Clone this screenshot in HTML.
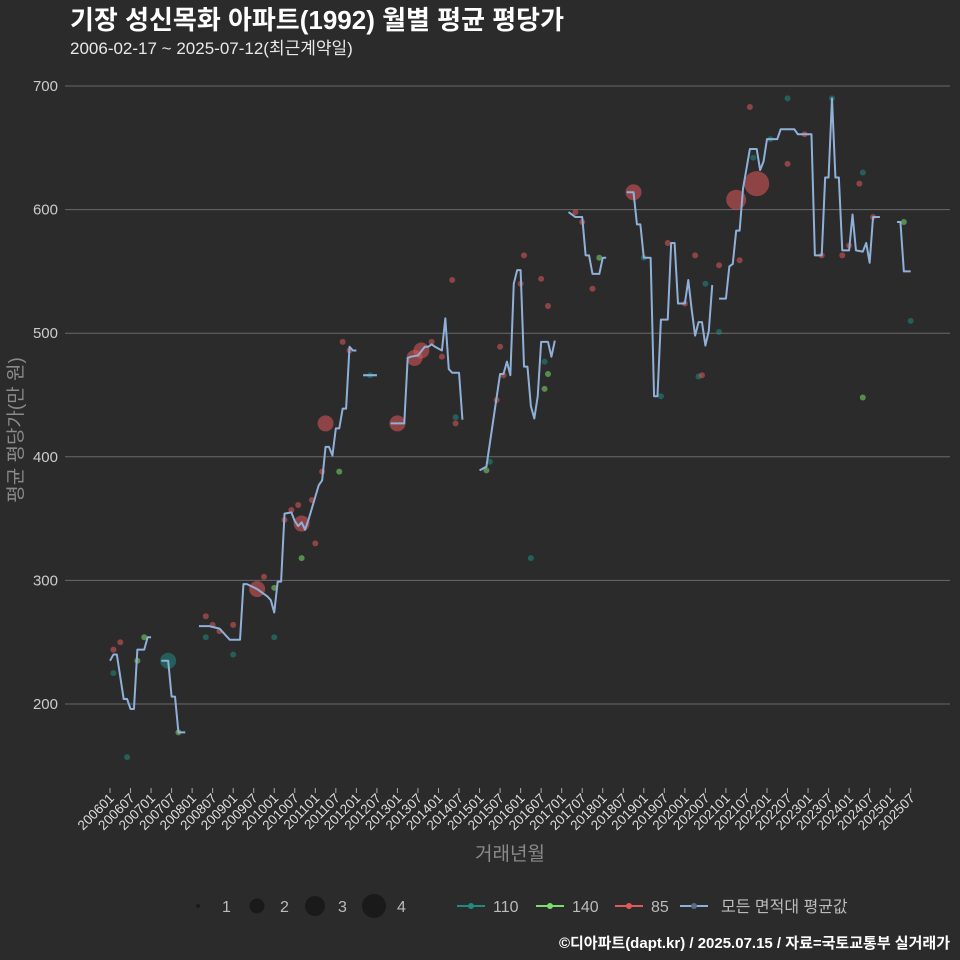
<!DOCTYPE html>
<html><head><meta charset="utf-8">
<style>
html,body{margin:0;padding:0;background:#2b2b2c;}
svg{display:block;font-family:"Liberation Sans","Noto Sans CJK KR",sans-serif;}
</style></head>
<body>
<svg id="chart" width="960" height="960" viewBox="0 0 960 960">
<rect width="960" height="960" fill="#2b2b2c"/>
<text x="70" y="29" fill="#ffffff" font-size="26" font-weight="bold">기장 성신목화 아파트(1992) 월별 평균 평당가</text>
<text x="70" y="54" fill="#e8e8e8" font-size="17">2006-02-17 ~ 2025-07-12(최근계약일)</text>
<g id="grid"></g>
<g id="yticks"></g>
<g id="xticks"></g>
<g id="pts"></g>
<g id="avg"></g>
<text transform="translate(22,430) rotate(-90)" text-anchor="middle" fill="#8a8a8a" font-size="19">평균 평당가(만 원)</text>
<text x="510" y="860" text-anchor="middle" fill="#8a8a8a" font-size="19">거래년월</text>
<g font-size="16" fill="#bbbbbb">
<circle cx="198" cy="906" r="2" fill="#1a1a1a"/><text x="222" y="912">1</text>
<circle cx="257" cy="906" r="7.5" fill="#1a1a1a"/><text x="280" y="912">2</text>
<circle cx="315" cy="906" r="10" fill="#1a1a1a"/><text x="338" y="912">3</text>
<circle cx="374" cy="906" r="12" fill="#1a1a1a"/><text x="397" y="912">4</text>
</g>
<g font-size="16" fill="#bbbbbb">
<g><line x1="457" y1="906" x2="485" y2="906" stroke="#1f8a80" stroke-width="2"/><circle cx="471" cy="906" r="3" fill="#1f8a80"/><text x="493" y="912">110</text></g>
<g><line x1="536" y1="906" x2="564" y2="906" stroke="#7ddc6e" stroke-width="2"/><circle cx="550" cy="906" r="3" fill="#7ddc6e"/><text x="572" y="912">140</text></g>
<g><line x1="615" y1="906" x2="643" y2="906" stroke="#e05a5a" stroke-width="2"/><circle cx="629" cy="906" r="3" fill="#e05a5a"/><text x="651" y="912">85</text></g>
<g><line x1="680" y1="906" x2="708" y2="906" stroke="#8fb0d8" stroke-width="2"/><circle cx="694" cy="906" r="3" fill="#5a6c88"/><text x="721" y="912">모든 면적대 평균값</text></g>
</g>
<text x="950" y="948" text-anchor="end" fill="#ffffff" font-size="15" font-weight="bold">©디아파트(dapt.kr) / 2025.07.15 / 자료=국토교통부 실거래가</text>
</svg>
<script>
// data: month index (0 = 2006-01), value (만 원/평), count
const yTicks = [200,300,400,500,600,700];
const xTickLabels = [];
for (let y=2006;y<=2025;y++){ xTickLabels.push(y+'01'); xTickLabels.push(y+'07'); }
const avgSegments = [
 [[0,235],[1,240],[2,240],[4,204],[5,204],[6,196],[7,196],[8,244],[10,244],[11,254],[12,254]],
 [[15,235],[17,235],[18,206],[19,206],[20,177],[22,177]],
 [[26,263],[29,263],[32,261],[35,252],[38,252],[39,297],[40,297],[43,293],[46,287],[47,284],[48,274],[49,299],[50,299],[51,354],[53,355],[54,348],[55,344],[56,347],[57,341],[58,349],[61,377],[62,381],[63,408],[64,408],[65,401],[66,423],[67,423],[68,439],[69,439],[70,489],[71,486],[72,486]],
 [[74,466],[78,466]],
 [[82,427],[86,427],[87,480],[88,481],[90,482],[92,489],[93,489],[94,491],[95,489],[97,486],[98,512],[99,471],[100,468],[102,468],[103,430]],
 [[108,389],[110,392],[114,467],[115,467],[116,477],[117,466],[118,540],[119,551],[120,551],[121,473],[122,473],[123,441],[124,431],[125,449],[126,493],[128,493],[129,481],[130,494]],
 [[134,598],[136,594],[138,594],[139,563],[140,563],[141,548],[143,548],[144,561],[145,561]],
 [[151,614],[153,614],[154,588],[155,588],[156,561],[158,561],[159,449],[160,449],[161,511],[163,511],[164,573],[165,573],[166,524],[168,524],[169,543],[170,519],[171,498],[172,509],[173,509],[174,490],[175,502],[176,539]],
 [[178,528],[180,528],[181,554],[182,556],[183,583],[184,583],[185,617],[187,649],[189,649],[190,632],[191,639],[192,657],[195,657],[196,665],[200,665],[201,661],[205,661],[206,563],[208,563],[209,626],[210,626],[211,690],[212,626],[213,626],[214,567],[216,567],[217,596],[218,567],[220,566],[221,573],[222,557],[223,594],[225,594]],
 [[230,590],[231,590],[232,550],[234,550]]
];
const red85 = [[1,244,1],[3,250,1],[43,293,2],[28,271,1],[30,264,1],[32,259,1],[36,264,1],[45,303,1],[51,349,1],[53,357,1],[55,361,1],[56,346,2],[59,365,1],[60,330,1],[62,388,1],[63,427,2],[68,493,1],[70,486,1],[84,427,2],[89,480,2],[91,486,2],[94,493,1],[97,481,1],[101,427,1],[100,543,1],[114,489,1],[113,446,1],[115,466,1],[121,563,1],[120,540,1],[126,544,1],[128,522,1],[136,598,1],[138,590,1],[141,536,1],[153,614,2],[163,573,1],[168,524,1],[171,563,1],[173,466,1],[178,555,1],[187,683,1],[184,559,1],[183,608,3],[189,621,4],[198,637,1],[203,661,1],[208,563,1],[214,563,1],[216,571,1],[219,621,1],[223,594,1]];
const teal110 = [[1,225,1],[5,157,1],[17,235,2],[28,254,1],[36,240,1],[48,254,1],[76,466,1],[101,432,1],[111,396,1],[127,477,1],[123,318,1],[156,561,1],[161,449,1],[174,540,1],[172,465,1],[178,501,1],[188,642,1],[193,657,1],[198,690,1],[211,690,1],[220,630,1],[234,510,1]];
const green140 = [[8,235,1],[10,254,1],[20,177,1],[48,294,1],[56,318,1],[67,388,1],[110,389,1],[128,467,1],[127,455,1],[143,561,1],[220,448,1],[232,590,1]];
const teal110Line = [[74,466],[78,466]];

const NS='http://www.w3.org/2000/svg';
const X = m => 110 + m*(800.7/234);
const Y = v => 704 - (v-200)*1.236;
const R = c => [0,3,8,10,12.5][c] || 3;
function mk(tag,attrs,parent){const e=document.createElementNS(NS,tag);for(const k in attrs)e.setAttribute(k,attrs[k]);parent.appendChild(e);return e;}
const grid=document.getElementById('grid'), yt=document.getElementById('yticks'), xt=document.getElementById('xticks');
yTicks.forEach(v=>{
 const l=mk('line',{x1:65,x2:950,y1:Y(v),y2:Y(v),stroke:'#6a6a6a','stroke-width':1},grid);
 
 
 const t=mk('text',{x:58,y:Y(v)+5,'text-anchor':'end',fill:'#cccccc','font-size':15},yt);
 t.textContent=v;
 
 
});
xTickLabels.forEach((lab,i)=>{
 const x=X(i*6);
 const tk=mk('line',{x1:x,x2:x,y1:788,y2:793,stroke:'#aaaaaa'},xt);
 
 
 const t=mk('text',{x:0,y:0,'text-anchor':'end',fill:'#dddddd','font-size':13.5,transform:`translate(${x+5},${799}) rotate(-45)`},xt);
 t.textContent=lab;
 
 
});
const pts=document.getElementById('pts');
function drawPts(arr,color,name){
 arr.forEach(p=>{
  const c=mk('circle',{cx:X(p[0]),cy:Y(p[1]),r:R(p[2]),fill:color,'fill-opacity':0.55},pts);
  
  
 });
}
drawPts(teal110,'#1f8a80','area-110');
drawPts(green140,'#7ddc6e','area-140');
drawPts(red85,'#e05a5a','area-85');
const tl=mk('polyline',{points:teal110Line.map(p=>X(p[0])+','+Y(p[1])).join(' '),fill:'none',stroke:'#1fa0a0','stroke-width':2},pts);


const avg=document.getElementById('avg');
avgSegments.forEach(seg=>{
 const pl=mk('polyline',{points:seg.map(p=>X(p[0])+','+Y(p[1])).join(' '),fill:'none',stroke:'#8fb0d8','stroke-width':2,'stroke-linejoin':'round'},avg);
 
 
});
</script>
</body></html>
